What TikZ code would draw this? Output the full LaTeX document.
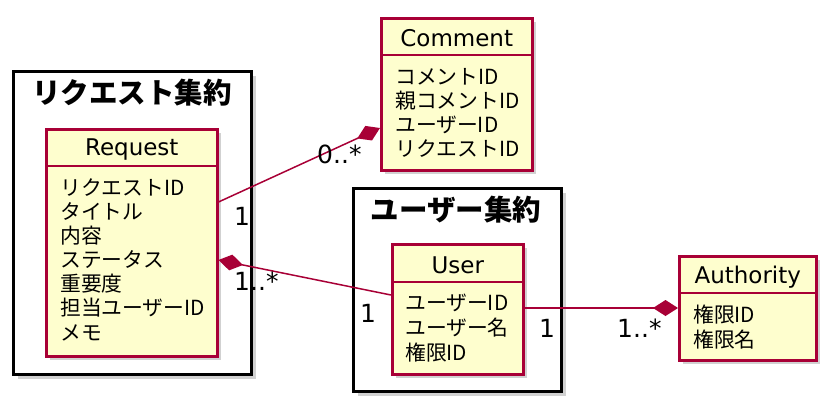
\documentclass[tikz,border=0pt]{standalone}
\usepackage{fontspec}
\setmainfont{Noto Sans CJK JP}
\newfontfamily\lat{DejaVu Sans}
\usetikzlibrary{arrows.meta,shadows}
\definecolor{pborder}{HTML}{A80036}
\definecolor{pfill}{HTML}{FEFECE}
\begin{document}
\begin{tikzpicture}[x=1pt,y=-1pt,
  shd/.style={drop shadow={shadow xshift=4pt,shadow yshift=-4pt,fill=black!40,opacity=0.45}},
  pkg/.style={draw=black,line width=3pt,fill=white,anchor=north west,inner sep=0,shd},
  cls/.style={draw=pborder,line width=2.5pt,fill=pfill,anchor=north west,inner sep=0,shd},
  divider/.style={draw=pborder,line width=2pt},
  hdr/.style={anchor=base,inner sep=0,font=\lat\fontsize{23}{26}\selectfont},
  attr/.style={anchor=base west,inner sep=0,font=\fontsize{20.8}{24}\selectfont},
  ptitle/.style={anchor=base,inner sep=0,font=\bfseries\fontsize{28.5}{30}\selectfont},
  conn/.style={draw=pborder,line width=1.5pt},
  mult/.style={anchor=base west,inner sep=0,font=\lat\fontsize{25}{28}\selectfont}]
\useasboundingbox (0,0) rectangle (835,410);

% packages
\node[pkg,minimum width=238pt,minimum height=303pt] (reqpkg) at (12,70) {};
\node[ptitle] (reqpkgt) at (132,103) {リクエスト集約};
\node[pkg,minimum width=208pt,minimum height=203pt] (usrpkg) at (352,187) {};
\node[ptitle] (usrpkgt) at (456,220) {ユーザー集約};

% Request
\node[cls,minimum width=171pt,minimum height=227pt] (req) at (45,128) {};
\draw[divider] (req.west |- 0,166) -- (req.east |- 0,166);
\node[hdr] (reqh) at (req.north |- 0,155) {Request};
\foreach \t [count=\i from 0] in {リクエストID,タイトル,内容,ステータス,重要度,担当ユーザーID,メモ}
  \node[attr] (reqa\i) at (60,195+24.17*\i) {\t};

% Comment
\node[cls,minimum width=151pt,minimum height=152pt] (com) at (380,17) {};
\draw[divider] (com.west |- 0,55) -- (com.east |- 0,55);
\node[hdr] (comh) at (com.north |- 0,46) {Comment};
\foreach \t [count=\i from 0] in {コメントID,親コメントID,ユーザーID,リクエストID}
  \node[attr] (coma\i) at (395,84+24.33*\i) {\t};

% User
\node[cls,minimum width=131pt,minimum height=130pt] (usr) at (391,243) {};
\draw[divider] (usr.west |- 0,282) -- (usr.east |- 0,282);
\node[hdr] (usrh) at (usr.north |- 0,273) {User};
\foreach \t [count=\i from 0] in {ユーザーID,ユーザー名,権限ID}
  \node[attr] (usra\i) at (405,310+25*\i) {\t};

% Authority
\node[cls,minimum width=137pt,minimum height=104pt] (aut) at (678,255) {};
\draw[divider] (aut.west |- 0,293) -- (aut.east |- 0,293);
\node[hdr] (auth) at (aut.north |- 0,283) {Authority};
\foreach \t [count=\i from 0] in {権限ID,権限名}
  \node[attr] (auta\i) at (693,322+25*\i) {\t};

% connectors
\draw[conn,-{Diamond[length=25pt,width=16pt]}] (req.east |- 0,202) -- (com.west |- 0,128);
\draw[conn,{Diamond[length=25pt,width=16pt]}-] (req.east |- 0,260) -- (usr.west |- 0,295);
\draw[conn,-{Diamond[length=25pt,width=16pt]}] (usr.east |- 0,308) -- (aut.west |- 0,308);

% multiplicities
\node[mult] (m1) at (234,225) {1};
\node[mult] (m2) at (317,163) {0..*};
\node[mult] (m3) at (234,290) {1..*};
\node[mult] (m4) at (360,322) {1};
\node[mult] (m5) at (539,337) {1};
\node[mult] (m6) at (617,337) {1..*};
\end{tikzpicture}
\end{document}
